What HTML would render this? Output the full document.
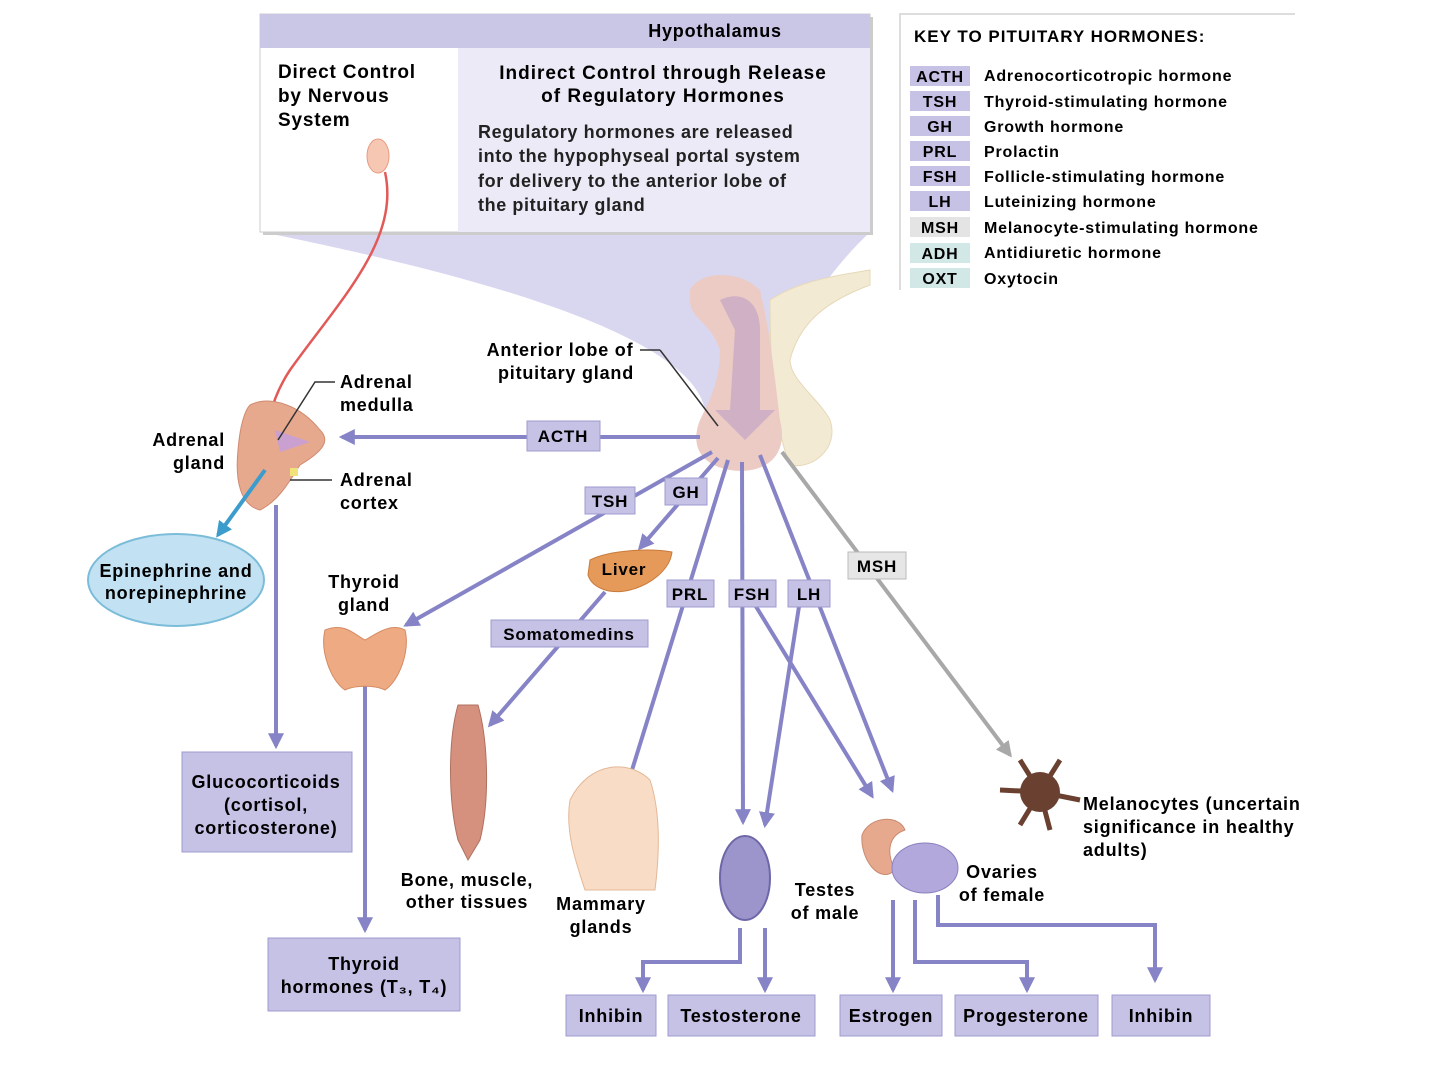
<!DOCTYPE html>
<html><head><meta charset="utf-8"><style>
html,body{margin:0;padding:0;background:#fff;}
svg{display:block;font-family:"Liberation Sans",sans-serif;font-weight:bold;}
svg text{letter-spacing:0.8px;}
</style></head><body>
<svg width="1440" height="1071" viewBox="0 0 1440 1071" xmlns="http://www.w3.org/2000/svg">
<defs>
<marker id="ap" viewBox="0 0 10 10" refX="8" refY="5" markerWidth="4" markerHeight="4" orient="auto"><path d="M0,0L10,5L0,10z" fill="#8683c6"/></marker>
<marker id="ag" viewBox="0 0 10 10" refX="8" refY="5" markerWidth="4" markerHeight="4" orient="auto"><path d="M0,0L10,5L0,10z" fill="#a8a8a8"/></marker>
<marker id="ab" viewBox="0 0 10 10" refX="8" refY="5" markerWidth="4" markerHeight="4" orient="auto"><path d="M0,0L10,5L0,10z" fill="#3c9ccc"/></marker>
</defs>
<!-- funnel -->
<path d="M262,232 L870,232 C820,280 790,330 770,410 L705,410 C690,330 450,270 262,232z" fill="#d9d7f0"/>
<!-- pituitary -->
<path d="M770,300 C800,280 840,275 870,270 L870,285 C830,300 800,320 790,360 C790,380 820,400 830,420 C840,450 810,470 790,465 C780,440 770,400 770,300z" fill="#f3ead4" stroke="#e6d9b8"/>
<path d="M690,290 C700,270 740,270 760,290 C770,330 775,380 780,420 C790,460 760,475 730,470 C700,465 690,445 700,420 C710,400 720,380 720,350 C710,320 690,320 690,300z" fill="#eccbc4"/>
<path d="M720,300 C740,290 760,300 760,330 L760,410 L775,410 L745,440 L715,410 L730,410 L735,330 z" fill="#c9a9c4" opacity="0.8"/>
<!-- top box -->
<rect x="263" y="17" width="610" height="218" fill="#ccc"/>
<rect x="260" y="14" width="610" height="218" fill="#fff" stroke="#ccc"/>
<rect x="260" y="14" width="610" height="34" fill="#c9c6e6"/>
<rect x="458" y="48" width="412" height="184" fill="#eceaf6"/>
<text x="715" y="37" font-size="18" text-anchor="middle">Hypothalamus</text>
<text font-size="19"><tspan x="278" y="78">Direct Control</tspan><tspan x="278" y="102">by Nervous</tspan><tspan x="278" y="126">System</tspan></text>
<text font-size="19" text-anchor="middle" style="letter-spacing:1px"><tspan x="663" y="79">Indirect Control through Release</tspan><tspan x="663" y="102">of Regulatory Hormones</tspan></text>
<text font-size="18" fill="#222" style="letter-spacing:0.6px"><tspan x="478" y="138">Regulatory hormones are released</tspan><tspan x="478" y="162">into the hypophyseal portal system</tspan><tspan x="478" y="187">for delivery to the anterior lobe of</tspan><tspan x="478" y="211">the pituitary gland</tspan></text>
<!-- key -->
<path d="M900,290 L900,14 L1295,14" fill="none" stroke="#ddd" stroke-width="2"/>
<text x="914" y="42" font-size="17" style="letter-spacing:1px">KEY TO PITUITARY HORMONES:</text>
<g font-size="16">
<rect x="910" y="66" width="60" height="20" fill="#c6c2e6"/><text x="940" y="82" text-anchor="middle">ACTH</text><text x="984" y="81" font-size="16">Adrenocorticotropic hormone</text>
<rect x="910" y="91" width="60" height="20" fill="#c6c2e6"/><text x="940" y="107" text-anchor="middle">TSH</text><text x="984" y="107" font-size="16">Thyroid-stimulating hormone</text>
<rect x="910" y="116" width="60" height="20" fill="#c6c2e6"/><text x="940" y="132" text-anchor="middle">GH</text><text x="984" y="132" font-size="16">Growth hormone</text>
<rect x="910" y="141" width="60" height="20" fill="#c6c2e6"/><text x="940" y="157" text-anchor="middle">PRL</text><text x="984" y="157" font-size="16">Prolactin</text>
<rect x="910" y="166" width="60" height="20" fill="#c6c2e6"/><text x="940" y="182" text-anchor="middle">FSH</text><text x="984" y="182" font-size="16">Follicle-stimulating hormone</text>
<rect x="910" y="191" width="60" height="20" fill="#c6c2e6"/><text x="940" y="207" text-anchor="middle">LH</text><text x="984" y="207" font-size="16">Luteinizing hormone</text>
<rect x="910" y="217" width="60" height="20" fill="#e4e4e4"/><text x="940" y="233" text-anchor="middle">MSH</text><text x="984" y="233" font-size="16">Melanocyte-stimulating hormone</text>
<rect x="910" y="243" width="60" height="20" fill="#d2e8e6"/><text x="940" y="259" text-anchor="middle">ADH</text><text x="984" y="258" font-size="16">Antidiuretic hormone</text>
<rect x="910" y="268" width="60" height="20" fill="#d2e8e6"/><text x="940" y="284" text-anchor="middle">OXT</text><text x="984" y="284" font-size="16">Oxytocin</text>
</g>
<!-- red nerve -->
<ellipse cx="378" cy="156" rx="11" ry="17" fill="#f6c8b4" stroke="#e89a80"/>
<path d="M385,172 C400,240 340,300 290,370 C270,400 265,430 262,470" fill="none" stroke="#e25a58" stroke-width="2.5"/>
<!-- adrenal -->
<path d="M250,405 C270,395 300,405 320,430 C330,440 325,450 300,465 C290,480 280,500 260,510 C240,505 235,480 238,450 C240,425 245,410 250,405z" fill="#e7a98e" stroke="#d08a70"/>
<path d="M275,430 L310,442 L280,452z" fill="#c9a0d0"/>
<rect x="290" y="468" width="8" height="8" fill="#f2e27a"/>
<line x1="265" y1="470" x2="218" y2="535" stroke="#3c9ccc" stroke-width="4" marker-end="url(#ab)"/>
<ellipse cx="176" cy="580" rx="88" ry="46" fill="#c2e2f4" stroke="#7bbcd8" stroke-width="2"/>
<text font-size="18" text-anchor="middle"><tspan x="176" y="577">Epinephrine and</tspan><tspan x="176" y="599">norepinephrine</tspan></text>
<text font-size="18" text-anchor="end"><tspan x="225" y="446">Adrenal</tspan><tspan x="225" y="469">gland</tspan></text>
<path d="M335,382 L315,382 L278,440" fill="none" stroke="#333" stroke-width="1.5"/>
<text font-size="18"><tspan x="340" y="388">Adrenal</tspan><tspan x="340" y="411">medulla</tspan></text>
<line x1="290" y1="480" x2="332" y2="480" stroke="#333" stroke-width="1.5"/>
<text font-size="18"><tspan x="340" y="486">Adrenal</tspan><tspan x="340" y="509">cortex</tspan></text>
<line x1="640" y1="350" x2="660" y2="350" stroke="#333" stroke-width="1.5"/>
<line x1="660" y1="350" x2="718" y2="426" stroke="#333" stroke-width="1.5"/>
<text font-size="18" text-anchor="middle"><tspan x="560" y="356">Anterior lobe of</tspan><tspan x="566" y="379">pituitary gland</tspan></text>
<!-- purple arrows -->
<g stroke="#8683c6" stroke-width="4" fill="none" marker-end="url(#ap)">
<line x1="700" y1="437" x2="342" y2="437"/>
<line x1="276" y1="505" x2="276" y2="746"/>
<line x1="712" y1="452" x2="406" y2="625"/>
<line x1="365" y1="670" x2="365" y2="930"/>
<line x1="718" y1="458" x2="640" y2="548"/>
<line x1="605" y1="592" x2="490" y2="725"/>
<line x1="728" y1="460" x2="615" y2="825"/>
<line x1="742" y1="462" x2="743" y2="822"/>
<line x1="752" y1="600" x2="872" y2="796"/>
<line x1="760" y1="455" x2="892" y2="790"/>
<line x1="800" y1="600" x2="765" y2="825"/>
<path d="M740,928 L740,962 L643,962 L643,990"/>
<line x1="765" y1="928" x2="765" y2="990"/>
<line x1="893" y1="900" x2="893" y2="990"/>
<path d="M915,900 L915,962 L1027,962 L1027,990"/>
<path d="M938,895 L938,925 L1155,925 L1155,980"/>
</g>
<line x1="782" y1="452" x2="1010" y2="755" stroke="#a8a8a8" stroke-width="4" marker-end="url(#ag)"/>
<!-- labels -->
<g font-size="17" text-anchor="middle">
<rect x="527" y="421" width="73" height="30" fill="#c6c2e6" stroke="#9f9bcf"/><text x="563" y="442">ACTH</text>
<rect x="585" y="487" width="50" height="27" fill="#c6c2e6" stroke="#9f9bcf"/><text x="610" y="507">TSH</text>
<rect x="665" y="478" width="42" height="27" fill="#c6c2e6" stroke="#9f9bcf"/><text x="686" y="498">GH</text>
<rect x="667" y="580" width="47" height="27" fill="#c6c2e6" stroke="#9f9bcf"/><text x="690" y="600">PRL</text>
<rect x="729" y="580" width="47" height="27" fill="#c6c2e6" stroke="#9f9bcf"/><text x="752" y="600">FSH</text>
<rect x="788" y="580" width="42" height="27" fill="#c6c2e6" stroke="#9f9bcf"/><text x="809" y="600">LH</text>
<rect x="848" y="552" width="58" height="27" fill="#e6e6e6" stroke="#bbb"/><text x="877" y="572">MSH</text>
<rect x="491" y="620" width="157" height="27" fill="#c6c2e6" stroke="#9f9bcf"/><text x="569" y="640">Somatomedins</text>
</g>
<!-- organs -->
<path d="M590,560 C610,550 650,548 672,552 C670,570 650,585 630,590 C610,595 592,588 588,575z" fill="#e59a5a" stroke="#c97a3a"/>
<text x="624" y="575" font-size="17" text-anchor="middle">Liver</text>
<path d="M325,630 C345,622 355,635 365,640 C375,635 390,622 405,630 C410,650 400,680 385,690 C375,685 355,685 345,690 C330,680 320,650 325,630z" fill="#eeaa82" stroke="#d58a62"/>
<text font-size="18" text-anchor="middle"><tspan x="364" y="588">Thyroid</tspan><tspan x="364" y="611">gland</tspan></text>
<path d="M458,705 L478,705 C488,740 490,800 480,840 L468,860 L458,840 C448,800 448,740 458,705z" fill="#d6907e" stroke="#b07060"/>
<text font-size="18" text-anchor="middle"><tspan x="467" y="886">Bone, muscle,</tspan><tspan x="467" y="908">other tissues</tspan></text>
<path d="M570,800 C590,760 630,760 650,780 C660,810 660,850 655,890 L585,890 C575,860 565,830 570,800z" fill="#f8dcc6" stroke="#e4b898"/>
<text font-size="18" text-anchor="middle"><tspan x="601" y="910">Mammary</tspan><tspan x="601" y="933">glands</tspan></text>
<ellipse cx="745" cy="878" rx="25" ry="42" fill="#9c95cc" stroke="#6d67a8" stroke-width="2"/>
<text font-size="18" text-anchor="middle"><tspan x="825" y="896">Testes</tspan><tspan x="825" y="919">of male</tspan></text>
<path d="M862,835 C870,815 900,815 905,830 C890,835 885,850 895,870 C880,885 860,860 862,835z" fill="#e7a98e" stroke="#c98a70"/>
<ellipse cx="925" cy="868" rx="33" ry="25" fill="#b3a8dc" stroke="#8a80c0"/>
<text font-size="18" text-anchor="middle"><tspan x="1002" y="878">Ovaries</tspan><tspan x="1002" y="901">of female</tspan></text>
<circle cx="1040" cy="792" r="20" fill="#6a4030"/>
<path d="M1040,792 L1000,790 M1040,792 L1020,760 M1040,792 L1060,760 M1040,792 L1080,800 M1040,792 L1050,830 M1040,792 L1020,825" stroke="#6a4030" stroke-width="5"/>
<text font-size="18"><tspan x="1083" y="810">Melanocytes (uncertain</tspan><tspan x="1083" y="833">significance in healthy</tspan><tspan x="1083" y="856">adults)</tspan></text>
<!-- result boxes -->
<g font-size="18" text-anchor="middle">
<rect x="182" y="752" width="170" height="100" fill="#c6c2e6" stroke="#9f9bcf"/>
<text><tspan x="266" y="788">Glucocorticoids</tspan><tspan x="266" y="811">(cortisol,</tspan><tspan x="266" y="834">corticosterone)</tspan></text>
<rect x="268" y="938" width="192" height="73" fill="#c6c2e6" stroke="#9f9bcf"/>
<text><tspan x="364" y="970">Thyroid</tspan><tspan x="364" y="993">hormones (T₃, T₄)</tspan></text>
<rect x="566" y="995" width="90" height="41" fill="#c6c2e6" stroke="#9f9bcf"/><text x="611" y="1022">Inhibin</text>
<rect x="668" y="995" width="147" height="41" fill="#c6c2e6" stroke="#9f9bcf"/><text x="741" y="1022">Testosterone</text>
<rect x="840" y="995" width="102" height="41" fill="#c6c2e6" stroke="#9f9bcf"/><text x="891" y="1022">Estrogen</text>
<rect x="955" y="995" width="143" height="41" fill="#c6c2e6" stroke="#9f9bcf"/><text x="1026" y="1022">Progesterone</text>
<rect x="1112" y="995" width="98" height="41" fill="#c6c2e6" stroke="#9f9bcf"/><text x="1161" y="1022">Inhibin</text>
</g>
</svg>
</body></html>
